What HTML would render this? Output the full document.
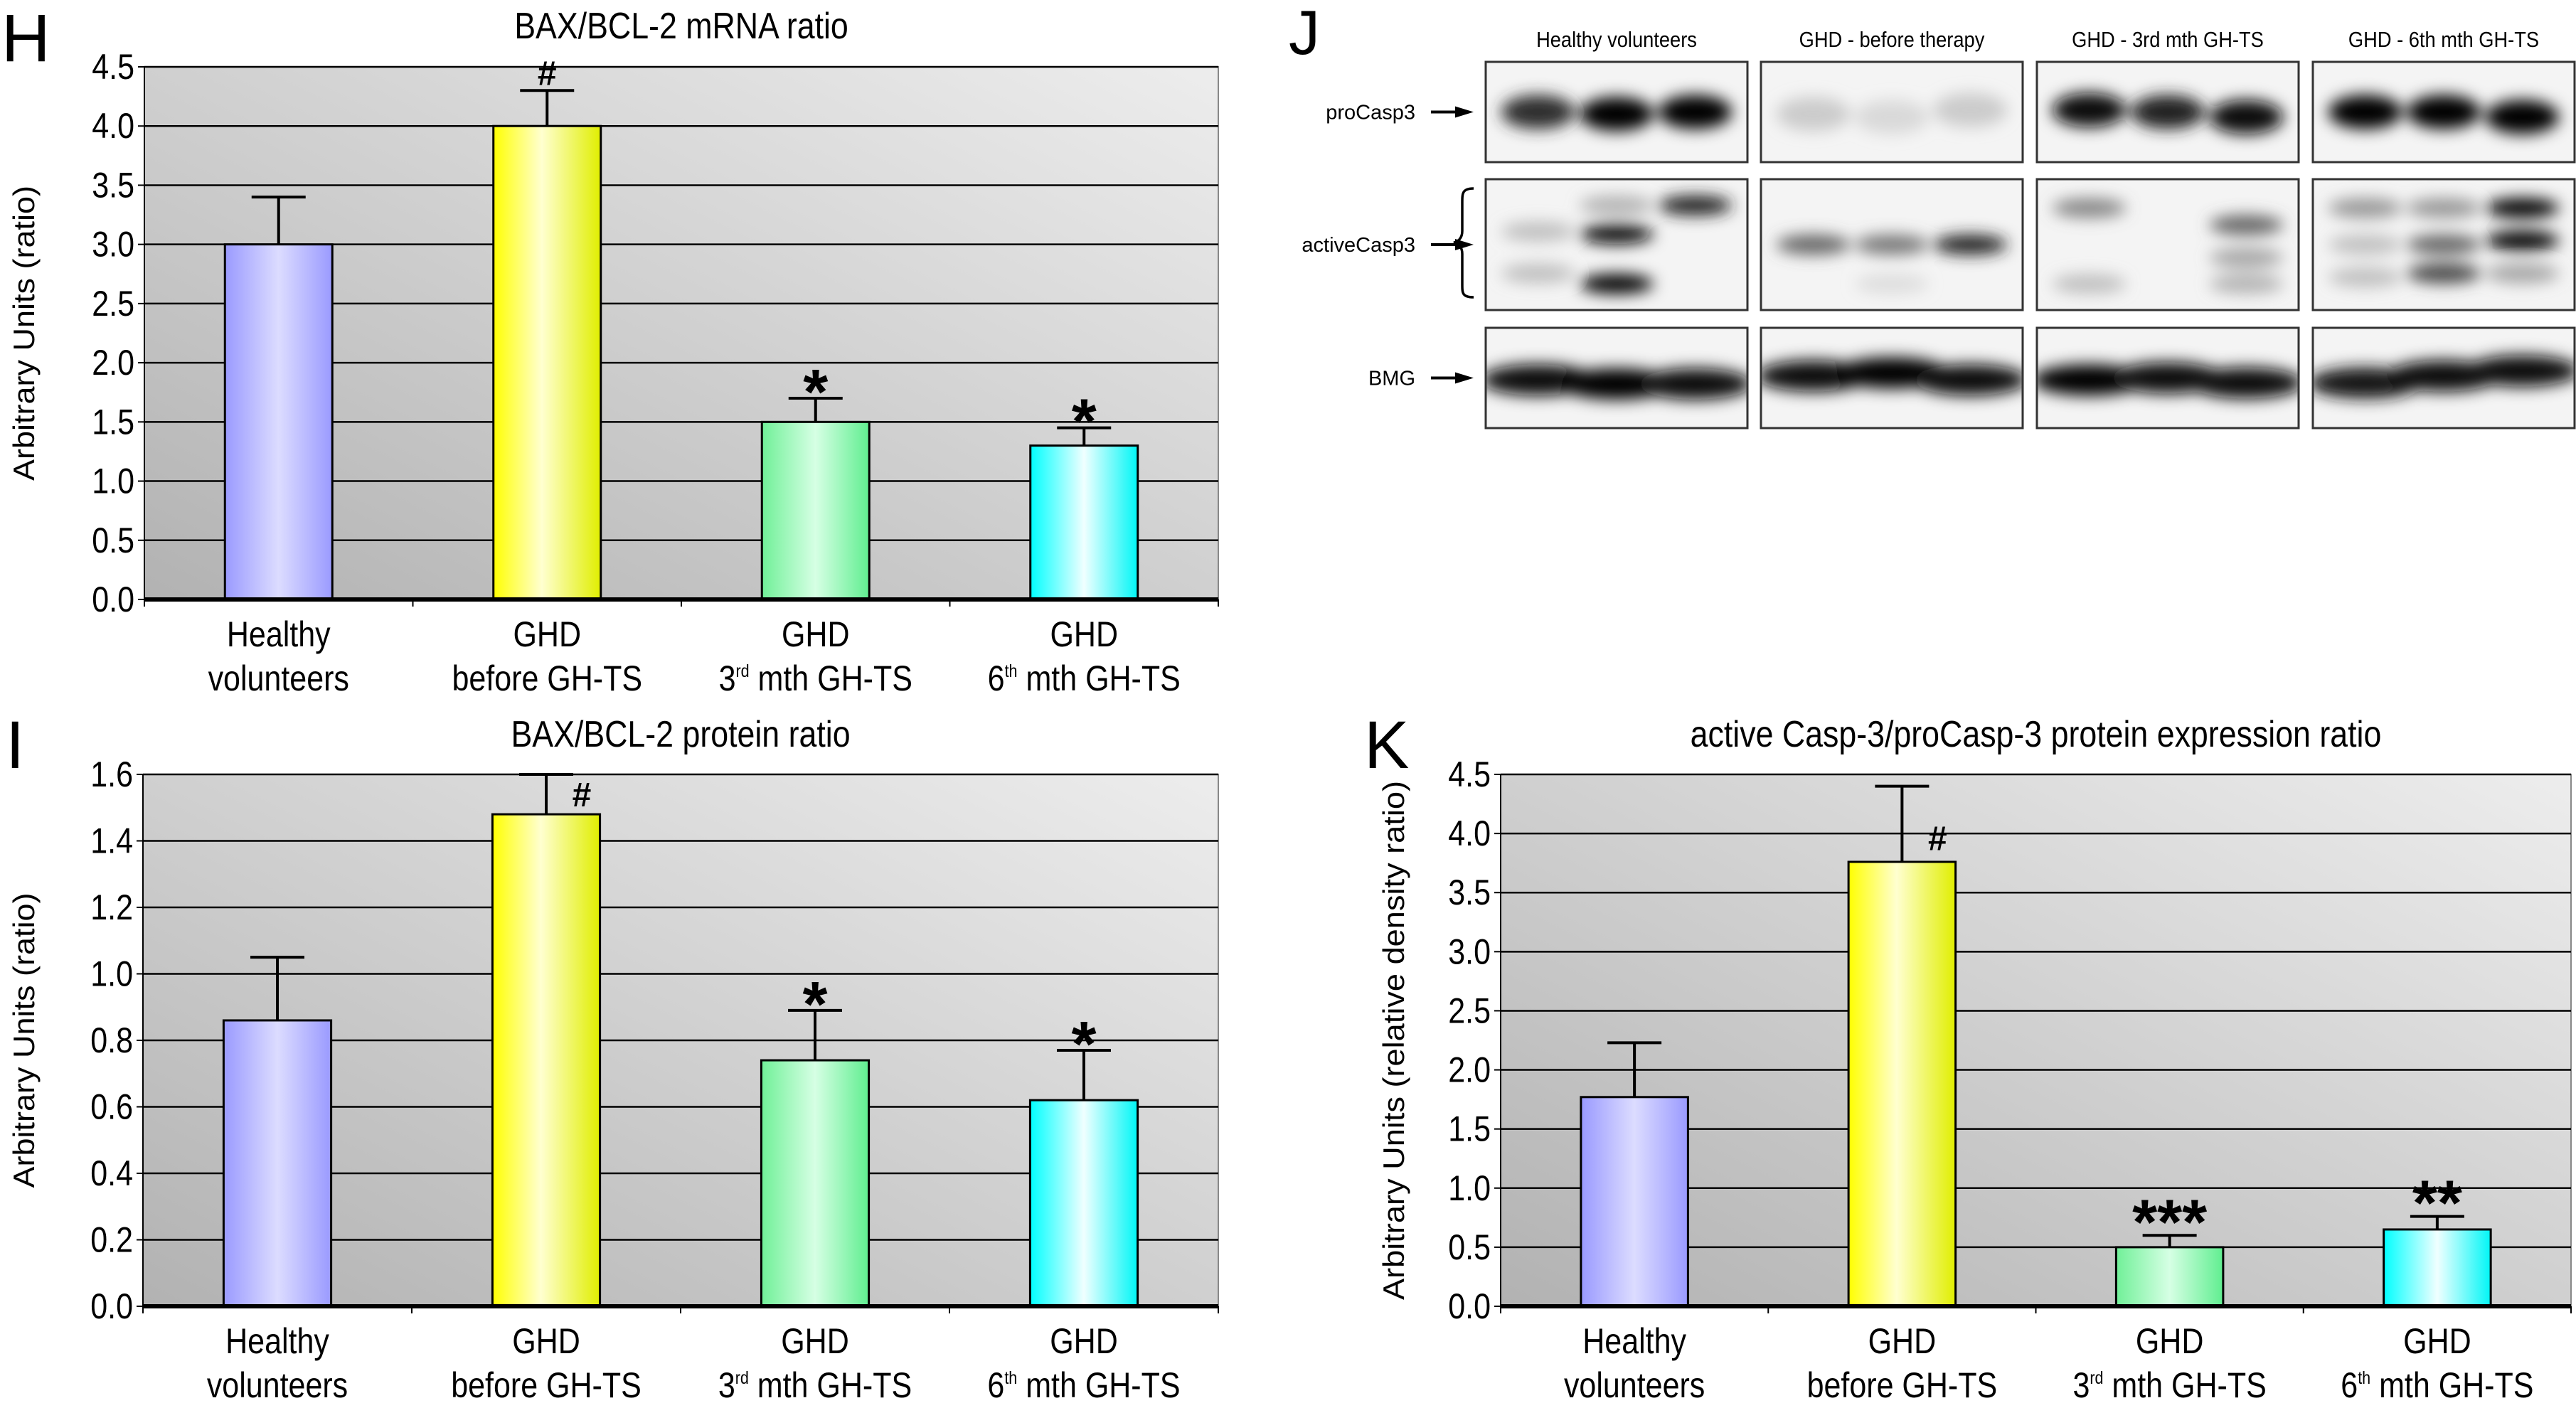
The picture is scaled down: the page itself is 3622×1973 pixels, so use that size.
<!DOCTYPE html>
<html><head><meta charset="utf-8"><style>
html,body{margin:0;padding:0;background:#fff}
svg{display:block}
text{font-family:"Liberation Sans",sans-serif}
</style></head>
<body>
<svg id="fig" width="3622" height="1973" viewBox="0 0 3622 1973" xmlns="http://www.w3.org/2000/svg">
<defs>
<linearGradient id="bg" x1="0" y1="1" x2="1" y2="0"><stop offset="0" stop-color="#b2b2b2"/><stop offset="1" stop-color="#ededed"/></linearGradient>
<linearGradient id="g0" x1="0" x2="1"><stop offset="0" stop-color="#9a9aff"/><stop offset="0.5" stop-color="#dcdcff"/><stop offset="1" stop-color="#9a9aff"/></linearGradient>
<linearGradient id="g1" x1="0" x2="1"><stop offset="0" stop-color="#ffff00"/><stop offset="0.45" stop-color="#ffffd0"/><stop offset="1" stop-color="#e0ee00"/></linearGradient>
<linearGradient id="g2" x1="0" x2="1"><stop offset="0" stop-color="#70f098"/><stop offset="0.5" stop-color="#d6ffe4"/><stop offset="1" stop-color="#60ee90"/></linearGradient>
<linearGradient id="g3" x1="0" x2="1"><stop offset="0" stop-color="#00ffff"/><stop offset="0.5" stop-color="#f0ffff"/><stop offset="1" stop-color="#00f6f6"/></linearGradient>
<filter id="blur" x="-50%" y="-50%" width="200%" height="200%"><feGaussianBlur stdDeviation="11"/></filter>
</defs>
</svg>
<script>
// ---- chart data ----
const categories = ["Healthy|volunteers","GHD|before GH-TS","GHD|3rd mth GH-TS","GHD|6th mth GH-TS"];
const mrnaValues = [3.0, 4.0, 1.5, 1.3];
const mrnaErrors = [3.4, 4.3, 1.7, 1.45];
const mrnaMarks = ["", "#", "*", "*"];
const mrnaTicks = ["0.0","0.5","1.0","1.5","2.0","2.5","3.0","3.5","4.0","4.5"];
const proteinValues = [0.86, 1.48, 0.74, 0.62];
const proteinErrors = [1.05, 1.6, 0.89, 0.77];
const proteinMarks = ["", "#", "*", "*"];
const proteinTicks = ["0.0","0.2","0.4","0.6","0.8","1.0","1.2","1.4","1.6"];
const caspValues = [1.77, 3.76, 0.5, 0.65];
const caspErrors = [2.23, 4.4, 0.6, 0.76];
const caspMarks = ["", "#", "***", "**"];
const caspTicks = ["0.0","0.5","1.0","1.5","2.0","2.5","3.0","3.5","4.0","4.5"];

const NS="http://www.w3.org/2000/svg";
const svg=document.getElementById('fig');
function mk(tag,attrs,parent){const e=document.createElementNS(NS,tag);for(const k in attrs)e.setAttribute(k,attrs[k]);(parent||svg).appendChild(e);return e;}
function ntext(parent,x,y,str,size,anchor,sx){
  const g=mk('g',{transform:`translate(${x},${y}) scale(${sx||0.86},1)`},parent);
  const t=mk('text',{x:0,y:0,'font-size':size,'text-anchor':anchor||'middle',fill:'#000'},g);
  const m=str.match(/^(\d)(rd|th)(.*)$/);
  if(m){t.appendChild(document.createTextNode(m[1]));const s=mk('tspan',{'font-size':size*0.5,dy:-size*0.38},t);s.textContent=m[2];const r=mk('tspan',{dy:size*0.38},t);r.textContent=m[3];}
  else t.textContent=str;
  return g;
}

function drawChart(o){
  const g=mk('g',{});
  
  
  const ys=v=>o.y0-(v/o.max)*(o.y0-o.y1);
  const cw=(o.x1-o.x0)/categories.length;
  const xs=i=>o.x0+cw*(i+0.5);
  const bg=mk('rect',{x:o.x0,y:o.y1,width:o.x1-o.x0,height:o.y0-o.y1,fill:'url(#bg)',stroke:'#888','stroke-width':2},g);
  
  
  o.ticks.forEach(t=>{
    const v=parseFloat(t),y=ys(v);
    if(v>0){const l=mk('line',{x1:o.x0,x2:o.x1,y1:y,y2:y,stroke:'#000','stroke-width':2.5},g);
      
      }
    mk('line',{x1:o.x0-9,x2:o.x0,y1:y,y2:y,stroke:'#000','stroke-width':2},g);
    const tl=ntext(g,o.x0-14,y+17,t,50,'end');
    
    
  });
  mk('line',{x1:o.x0,x2:o.x0,y1:o.y1,y2:o.y0,stroke:'#000','stroke-width':2},g);
  o.values.forEach((v,i)=>{
    const bw=cw*0.4,cx=xs(i);
    const r=mk('rect',{x:cx-bw/2,y:ys(v),width:bw,height:o.y0-ys(v),fill:`url(#g${i})`,stroke:'#000','stroke-width':3},g);
    
    
    const ey=ys(o.errors[i]);
    const e=mk('path',{d:`M${cx},${ys(v)}V${ey}M${cx-38},${ey}H${cx+38}`,stroke:'#000','stroke-width':4,fill:'none'},g);
    
    
    const mark=o.marks[i];
    if(mark){
      let mx=cx,my=ey-8,sz=mark==='#'?48:90;
      if(mark==='#'&&o.hashSide){mx=cx+50;my=ey+(o.hashSide);}
      if(mark.startsWith('*'))my=ey+(mark.length>1?12:22);
      const t=mk('text',{x:mx,y:my,'font-size':sz,'font-weight':'bold','text-anchor':'middle',fill:'#000'},g);
      t.textContent=mark;
      
      
    }
    const parts=categories[i].split('|');
    const l1=ntext(g,cx,o.y0+66,parts[0],50);
    
    
    const l2=ntext(g,cx,o.y0+128,parts[1],50);
    
    
  });
  for(let i=0;i<=categories.length;i++){const x=o.x0+cw*i;mk('line',{x1:x,x2:x,y1:o.y0,y2:o.y0+10,stroke:'#000','stroke-width':2},g);}
  const ax=mk('line',{x1:o.x0,x2:o.x1,y1:o.y0,y2:o.y0,stroke:'#000','stroke-width':6},g);
  
  
  const tt=ntext(g,(o.x0+o.x1)/2,o.titleY,o.title,52);
  
  
  const yt=mk('text',{x:0,y:0,'font-size':42,'text-anchor':'middle',transform:`translate(${o.ytX},${(o.y0+o.y1)/2}) rotate(-90)`,textLength:o.ytLen,lengthAdjust:'spacingAndGlyphs'},g);
  yt.textContent=o.ytitle;
  
  
  const pl=mk('text',{x:o.px,y:o.py,'font-size':o.psz||95,fill:'#000'},g);
  pl.textContent=o.panel;
  
  
}

drawChart({name:'chart-h-mrna',x0:203,x1:1713,y0:843,y1:94,max:4.5,ticks:mrnaTicks,values:mrnaValues,errors:mrnaErrors,marks:mrnaMarks,title:'BAX/BCL-2 mRNA ratio',titleY:54,ytitle:'Arbitrary Units (ratio)',ytX:48,ytLen:415,panel:'H',px:2,py:86});
drawChart({name:'chart-i-protein',x0:201,x1:1713,y0:1837,y1:1089,max:1.6,ticks:proteinTicks,values:proteinValues,errors:proteinErrors,marks:proteinMarks,hashSide:45,title:'BAX/BCL-2 protein ratio',titleY:1050,ytitle:'Arbitrary Units (ratio)',ytX:48,ytLen:415,panel:'I',px:8,py:1080});
drawChart({name:'chart-k-casp',x0:2110,x1:3615,y0:1837,y1:1089,max:4.5,ticks:caspTicks,values:caspValues,errors:caspErrors,marks:caspMarks,hashSide:90,title:'active Casp-3/proCasp-3 protein expression ratio',titleY:1050,ytitle:'Arbitrary Units (relative density ratio)',ytX:1974,ytLen:730,panel:'K',px:1918,py:1080});

// ---- western blot panel J ----
const groups=["Healthy volunteers","GHD - before therapy","GHD - 3rd mth GH-TS","GHD - 6th mth GH-TS"];
const rows=[{name:'proCasp3',y:87,h:141,label:'proCasp3'},{name:'activeCasp3',y:252,h:184,label:'activeCasp3'},{name:'BMG',y:461,h:141,label:'BMG'}];
const bands=[
 [[[[0.5,0.8]],[[0.52,1]],[[0.5,1]]],[[[0.52,0.25]],[[0.55,0.18]],[[0.48,0.25]]],[[[0.48,0.95]],[[0.5,0.85]],[[0.55,0.95]]],[[[0.5,1]],[[0.5,1]],[[0.55,1]]]],
 [[[[0.4,0.3],[0.72,0.3]],[[0.2,0.35],[0.42,0.95],[0.8,1]],[[0.2,0.85]]],[[[0.5,0.6]],[[0.5,0.55],[0.8,0.15]],[[0.5,0.85]]],[[[0.22,0.5],[0.8,0.3]],[],[[0.35,0.6],[0.6,0.4],[0.8,0.35]]],[[[0.22,0.45],[0.5,0.3],[0.75,0.3]],[[0.22,0.45],[0.5,0.6],[0.72,0.7]],[[0.22,1],[0.47,1],[0.72,0.4]]]],
 [[[[0.52,0.95]],[[0.56,1]],[[0.56,0.95]]],[[[0.48,0.95]],[[0.45,1]],[[0.52,0.95]]],[[[0.52,1]],[[0.5,0.95]],[[0.55,0.95]]],[[[0.55,0.9]],[[0.48,0.95]],[[0.43,0.95]]]]
];
const panelX=[2089,2476,2864,3252], panelW=368;
const J=mk('g',{});


const jl=mk('text',{x:1812,y:76,'font-size':88,fill:'#000'},J);jl.textContent='J';


groups.forEach((gname,p)=>{
  const h=ntext(J,panelX[p]+panelW/2,66,gname,31,'middle',0.88);
  
  
});
rows.forEach((r,ri)=>{
  const lt=mk('text',{x:1990,y:r.y+r.h/2+10,'font-size':29,'text-anchor':'end',fill:'#000'},J);
  lt.textContent=r.label;
  
  
  const ay=r.y+r.h/2;
  mk('path',{d:`M2012,${ay}H2060`,stroke:'#000','stroke-width':4},J);
  mk('path',{d:`M2046,${ay-8}L2072,${ay}L2046,${ay+8}Z`,fill:'#000'},J);
  if(ri===1){mk('path',{d:`M2072,265 C2056,265 2056,272 2056,285 V325 C2056,335 2050,340 2044,341 C2050,342 2056,347 2056,357 V400 C2056,412 2056,418 2072,418`,stroke:'#000','stroke-width':3.5,fill:'none'},J);}
  panelX.forEach((px,p)=>{
    const pg=mk('g',{},J);
    
    
    const cid='clip'+ri+'_'+p;
    const cp=mk('clipPath',{id:cid},pg);mk('rect',{x:px,y:r.y,width:panelW,height:r.h},cp);
    const inner=mk('g',{'clip-path':`url(#${cid})`},pg);
    mk('rect',{x:px,y:r.y,width:panelW,height:r.h,fill:'#f4f4f4'},inner);
    const bl=mk('g',{filter:'url(#blur)'},inner);
    [0.2,0.5,0.8].forEach((lf,l)=>{
      bands[ri][p][l].forEach(b=>{
        const d=b[1];const c=Math.round(235*(1-d));
        const ry=ri===2?22:(ri===0?24:14);
        mk('ellipse',{cx:px+lf*panelW,cy:r.y+b[0]*r.h,rx:ri===2?80:52,ry:ry,fill:`rgb(${c},${c},${c})`,opacity:Math.min(1,0.35+d)},bl);
      });
    });
    mk('rect',{x:px,y:r.y,width:panelW,height:r.h,fill:'none',stroke:'#333','stroke-width':3},pg);
  });
});
</script>
</body></html>
